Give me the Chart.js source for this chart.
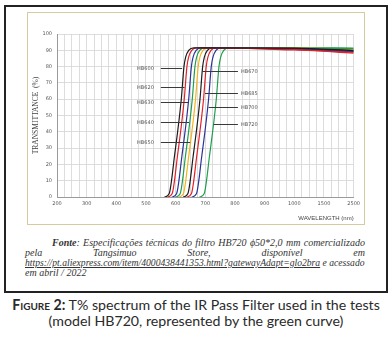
<!DOCTYPE html>
<html>
<head>
<meta charset="utf-8">
<script src="https://cdn.jsdelivr.net/npm/chart.js@4.4.1/dist/chart.umd.min.js"></script>
<style>
  html, body { margin: 0; padding: 0; background: #fff; width: 392px; height: 341px; overflow: hidden; }
  #box { position: absolute; left: 4px; top: 5px; width: 384px; height: 288px; border: 2px solid #222; box-sizing: border-box; }
  #frame { position: absolute; left: 27px; top: 12px; width: 338px; height: 213px; border: 1px solid #d6cb9f; box-sizing: border-box; }
  #chart { position: absolute; left: 28px; top: 13px; }
  .src { position: absolute; left: 25px; width: 340px; font-family: "Liberation Serif", serif; font-style: italic; font-size: 10px; line-height: 10px; color: #333; white-space: nowrap; }
  .just { text-align: justify; text-align-last: justify; white-space: normal; }
  .src a { color: #333; text-decoration: underline; }
  #url { white-space: nowrap; }
  #cap { position: absolute; left: 0; top: 297px; width: 392px; text-align: center; font-family: Lato, "Open Sans", sans-serif; font-size: 14.2px; line-height: 16px; color: #2a2a2a; }
  #cap .sc { font-variant: small-caps; font-weight: 700; }
</style>
</head>
<body>
<div id="box"></div>
<div id="frame"></div>
<canvas id="chart" width="336" height="211"></canvas>

<div class="src just" style="top:238px; left:52px; width:313px;"><b>Fonte</b>: Especificações técnicas do filtro HB720 ϕ50*2,0 mm comercializado</div>
<div class="src just" style="top:248px;">pela Tangsimuo Store, disponível em</div>
<div class="src" id="url" style="top:258px;"><a>https://pt.aliexpress.com/item/4000438441353.html?gatewayAdapt=glo2bra</a> e acessado</div>
<div class="src" style="top:268px;">em abril / 2022</div>

<div id="cap"><span class="sc">Figure 2:</span> T% spectrum of the IR Pass Filter used in the tests<br>(model HB720, represented by the green curve)</div>

<script>
// x axis ticks (equally spaced on the original chart)
const xTickLabels = ['200', '300', '400', '500', '600', '700', '800', '900', '1000', '1500', '2500'];

// transmittance levels read along each rising edge
const edgeLevels = [0, 2, 25, 60, 80, 86, 90, 91.5];

// wavelength (nm) where each filter reaches the levels above
const hb600 = [562, 578, 596, 619, 628, 634, 644, 661];
const hb620 = [572, 588, 606, 629, 638, 644, 654, 671];
const hb630 = [587, 603, 621, 644, 653, 659, 669, 686];
const hb640 = [599, 615, 633, 656, 665, 671, 681, 698];
const hb650 = [610, 626, 644, 667, 676, 682, 692, 709];
const hb670 = [625, 641, 659, 682, 691, 697, 707, 724];
const hb685 = [637, 653, 671, 694, 703, 709, 719, 736];
const hb700 = [654, 670, 688, 711, 720, 726, 736, 753];
const hb720 = [680, 696, 714, 737, 746, 752, 762, 779];

// plateau readings at 1000 nm and 2500 nm
const plateauWl = [1000, 2500];
const plateau600 = [91.3, 89.8];
const plateau620 = [90.5, 88.3];
const plateau630 = [91.0, 89.5];
const plateau640 = [91.4, 91.0];
const plateau650 = [91.5, 90.6];
const plateau670 = [91.0, 90.2];
const plateau685 = [90.2, 88.8];
const plateau700 = [90.6, 89.2];
const plateau720 = [91.5, 91.4];

const series = [
    { name: 'HB600', wl: hb600, plateau: plateau600, color: '#1c1c1c' },
    { name: 'HB620', wl: hb620, plateau: plateau620, color: '#e3202b' },
    { name: 'HB630', wl: hb630, plateau: plateau630, color: '#2b3399' },
    { name: 'HB640', wl: hb640, plateau: plateau640, color: '#1f9e50' },
    { name: 'HB650', wl: hb650, plateau: plateau650, color: '#f4b21f' },
    { name: 'HB670', wl: hb670, plateau: plateau670, color: '#1c1c1c' },
    { name: 'HB685', wl: hb685, plateau: plateau685, color: '#e3202b' },
    { name: 'HB700', wl: hb700, plateau: plateau700, color: '#2b3399' },
    { name: 'HB720', wl: hb720, plateau: plateau720, color: '#1f9e50' }
];

// callouts: label, pointer from/to wavelength, level
const callouts = [
    { text: 'HB600', side: 'left', from: 550, to: 622, t: 79 },
    { text: 'HB620', side: 'left', from: 550, to: 630, t: 67.5 },
    { text: 'HB630', side: 'left', from: 550, to: 642, t: 58 },
    { text: 'HB640', side: 'left', from: 550, to: 645, t: 46 },
    { text: 'HB650', side: 'left', from: 550, to: 649, t: 34 },
    { text: 'HB670', side: 'right', from: 689, to: 810, t: 77 },
    { text: 'HB685', side: 'right', from: 699, to: 810, t: 64 },
    { text: 'HB700', side: 'right', from: 711, to: 810, t: 55 },
    { text: 'HB720', side: 'right', from: 728, to: 810, t: 45 }
];

// the original axis is stretched: 100 nm steps to 1000, then 1500, 2500
function axisPos(w) {
    if (w <= 1000) return (w - 200) / 100;
    if (w <= 1500) return 8 + (w - 1000) / 500;
    return 9 + (w - 1500) / 1000;
}

// squeeze the url line so it fits on one row like the original
const urlLine = document.getElementById('url');
const urlScale = 340 / urlLine.scrollWidth;
if (urlScale < 1) urlLine.style.fontSize = (10 * urlScale).toFixed(2) + 'px';

const datasets = series.map(s => {
    const pts = s.wl.map((w, i) => ({ x: axisPos(w), y: edgeLevels[i] }));
    plateauWl.forEach((w, i) => pts.push({ x: axisPos(w), y: s.plateau[i] }));
    return {
        label: s.name,
        data: pts,
        borderColor: s.color,
        borderWidth: 1.2,
        pointRadius: 0,
        fill: false,
        cubicInterpolationMode: 'monotone'
    };
});

const calloutPlugin = {
    id: 'callouts',
    afterDatasetsDraw(chart) {
        const ctx = chart.ctx;
        const xs = chart.scales.x, ys = chart.scales.y;
        ctx.save();
        ctx.strokeStyle = '#3a3a3a';
        ctx.lineWidth = 1;
        ctx.fillStyle = '#555';
        ctx.font = '5px "DejaVu Sans"';
        ctx.textBaseline = 'middle';
        callouts.forEach(c => {
            const y = Math.round(ys.getPixelForValue(c.t)) + 0.5;
            const x1 = xs.getPixelForValue(axisPos(c.from));
            const x2 = xs.getPixelForValue(axisPos(c.to));
            ctx.beginPath();
            ctx.moveTo(x1, y);
            ctx.lineTo(x2, y);
            ctx.stroke();
            if (c.side === 'left') {
                ctx.textAlign = 'right';
                ctx.fillText(c.text, x1 - 7, y);
            } else {
                ctx.textAlign = 'left';
                ctx.fillText(c.text, x2 + 3, y);
            }
        });
        ctx.restore();
    }
};

new Chart(document.getElementById('chart'), {
    type: 'line',
    data: { datasets: datasets },
    options: {
        responsive: false,
        animation: false,
        layout: { padding: { left: 0, top: 21, right: 5, bottom: 0 } },
        plugins: { legend: { display: false }, tooltip: { enabled: false } },
        scales: {
            x: {
                type: 'linear',
                min: 0,
                max: 10,
                afterFit: axis => { axis.height = 27; },
                grid: { color: '#d4d4d4', lineWidth: 0.8, drawTicks: false },
                border: { color: '#9a9a9a' },
                ticks: {
                    stepSize: 0.25,
                    autoSkip: false,
                    maxRotation: 0,
                    padding: 4,
                    color: '#555',
                    font: { family: 'DejaVu Sans', size: 5 },
                    callback: v => Number.isInteger(v) ? xTickLabels[v] : ''
                },
                title: {
                    display: true,
                    text: 'WAVELENGTH (nm)',
                    align: 'end',
                    color: '#444',
                    font: { family: 'Liberation Sans', size: 6 },
                    padding: { top: 0, bottom: 2 }
                }
            },
            y: {
                min: 0,
                max: 100,
                afterFit: axis => { axis.width = 29; },
                grid: { color: '#d4d4d4', lineWidth: 0.8, drawTicks: false },
                border: { color: '#9a9a9a' },
                ticks: {
                    stepSize: 10,
                    padding: 5,
                    color: '#555',
                    font: { family: 'DejaVu Sans', size: 5 }
                },
                title: {
                    display: true,
                    text: 'TRANSMITTANCE  (%)',
                    color: '#444',
                    font: { family: 'Liberation Serif', size: 7.5 },
                    padding: { top: 4, bottom: 0 }
                }
            }
        }
    },
    plugins: [calloutPlugin]
});
</script>
</body>
</html>
